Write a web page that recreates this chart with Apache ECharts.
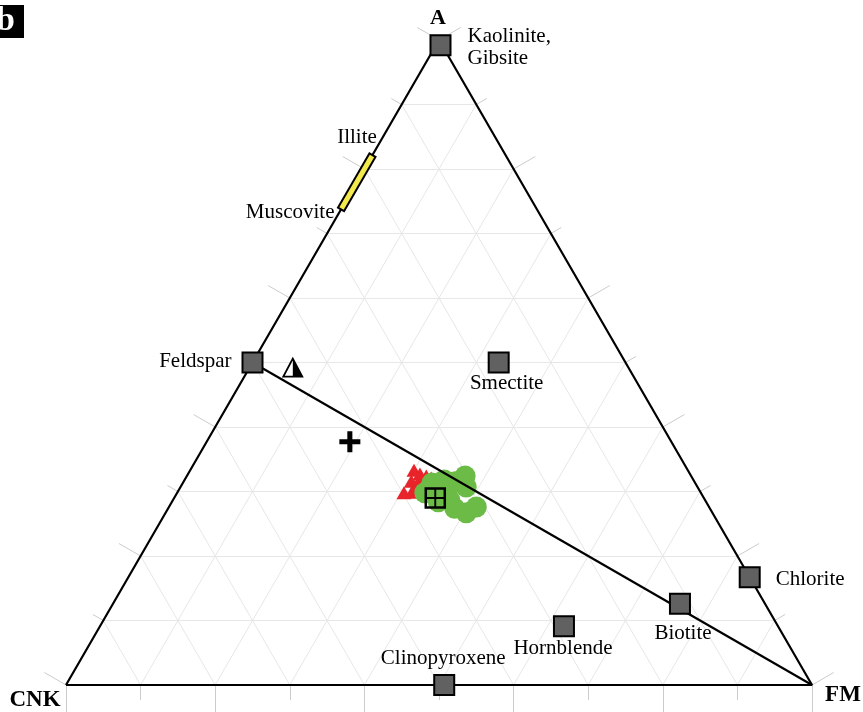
<!DOCTYPE html>
<html>
<head>
<meta charset="utf-8">
<script src="https://cdn.jsdelivr.net/npm/echarts@6/dist/echarts.min.js"></script>
<style>
  html, body { margin: 0; padding: 0; background: #fff; }
  #chart { width: 863px; height: 712px; }
</style>
</head>
<body>
<div id="chart"></div>
<script>
// A–CNK–FM ternary diagram. All compositions are [A, CNK, FM] in percent.

// Reference minerals
const mineralNames = ['Kaolinite,\nGibsite', 'Feldspar', 'Smectite', 'Chlorite', 'Biotite', 'Hornblende', 'Clinopyroxene'];
const mineralA   = [99.2, 50.0, 50.0, 16.7, 12.6,  9.1,  0.0];
const mineralCNK = [ 0.2, 50.0, 17.0,  0.0, 11.4, 28.7, 49.3];
const mineralFM  = [ 0.6,  0.0, 33.0, 83.3, 76.0, 62.2, 50.7];

// Illite–muscovite compositional range on the A–CNK join
const micaNames = ['Illite', 'Muscovite'];
const micaA   = [82.3, 73.6];
const micaCNK = [17.7, 26.4];
const micaFM  = [ 0.0,  0.0];

// Sample group 1 (red triangles)
const redA   = [33.3, 32.7, 32.4, 32.1, 31.6, 31.3, 29.8, 29.9, 31.0, 30.4];
const redCNK = [36.7, 36.2, 35.5, 35.0, 37.9, 37.2, 39.8, 38.7, 36.5, 37.9];
const redFM  = [30.0, 31.1, 32.1, 32.9, 30.5, 31.5, 30.4, 31.4, 32.5, 31.7];

// Sample group 2 (green circles)
const greenA   = [29.8, 31.3, 31.8, 31.5, 32.4, 30.7, 28.4, 28.7, 27.4, 26.7, 27.6, 30.2];
const greenCNK = [37.0, 35.3, 33.4, 32.1, 30.3, 31.0, 35.9, 34.2, 34.2, 33.0, 31.2, 33.8];
const greenFM  = [33.2, 33.4, 34.8, 36.4, 37.3, 38.3, 35.7, 37.1, 38.4, 40.3, 41.2, 36.0];

// Single reference compositions
const deltaPoint = [49.2, 45.0, 5.8];
const plusPoint  = [37.7, 43.1, 19.2];
const meanPoint  = [29.0, 36.0, 35.0];

// Feldspar – FM tie line
const tieLine = [[50, 50, 0], [0, 0, 100]];

// Corner labels
const cornerNames = ['A', 'CNK', 'FM'];
const cornerComp = [[100, 0, 0], [0, 100, 0], [0, 0, 100]];

// Grid levels (percent) and edge tick levels
const gridLevels = [10, 20, 30, 40, 50, 60, 70, 80, 90];
const tickLevels = [0, 10, 20, 30, 40, 50, 60, 70, 80, 90, 100];

const H = Math.sqrt(3) / 2;
function tern(a, c, f) {
  const s = a + c + f;
  return [(f + a / 2) / s, (a / s) * H];
}
const zip3 = (A, C, F) => A.map((a, i) => tern(a, C[i], F[i]));

// label placement around each marker (pixels)
const labelAt = {
  'Kaolinite,\nGibsite': { align: 'left', dx: 27, dy: 2 },
  'Feldspar': { align: 'right', dx: -21, dy: -1.5 },
  'Smectite': { align: 'center', dx: 8, dy: 20.5 },
  'Chlorite': { align: 'left', dx: 26, dy: 2 },
  'Biotite': { align: 'center', dx: 3, dy: 30 },
  'Hornblende': { align: 'center', dx: -1, dy: 22 },
  'Clinopyroxene': { align: 'center', dx: -1, dy: -27 },
  'Illite': { align: 'center', dx: -16, dy: -17 },
  'Muscovite': { align: 'right', dx: -6, dy: 2 },
  'A': { align: 'center', dx: -1, dy: -22, size: 22 },
  'CNK': { align: 'center', dx: -31, dy: 15, size: 23 },
  'FM': { align: 'center', dx: 31, dy: 10.5, size: 23 }
};

const serif = '"Liberation Serif", "Times New Roman", serif';
function labelFor(name, bold) {
  const p = labelAt[name];
  return {
    show: true,
    position: 'inside',
    formatter: '{b}',
    align: p.align,
    verticalAlign: 'middle',
    offset: [p.dx, p.dy],
    fontFamily: serif,
    fontSize: p.size || 21,
    fontWeight: bold ? 'bold' : 'normal',
    lineHeight: 22,
    color: '#000',
    opacity: 1
  };
}

// inner grid segments
const gridSegs = [];
gridLevels.forEach(l => {
  const r = 100 - l;
  gridSegs.push({ coords: [tern(l, r, 0), tern(l, 0, r)] });   // constant A
  gridSegs.push({ coords: [tern(0, r, l), tern(r, 0, l)] });   // constant FM
  gridSegs.push({ coords: [tern(0, l, r), tern(r, l, 0)] });   // constant CNK
});

// outward ticks, perpendicular to each edge
const PX = 1 / 746;
const tickSegs = [];
tickLevels.forEach((l, i) => {
  const long = i % 2 === 0;
  const len = (long ? 25 : 12) * PX;
  const lenB = (long ? 28 : 15) * PX;
  const left = tern(l, 100 - l, 0);
  tickSegs.push({ coords: [left, [left[0] - len * H, left[1] + len * 0.5]] });
  const right = tern(l, 0, 100 - l);
  tickSegs.push({ coords: [right, [right[0] + len * H, right[1] + len * 0.5]] });
  const bottom = tern(0, 100 - l, l);
  tickSegs.push({ coords: [bottom, [bottom[0], bottom[1] - lenB]] });
});

const outline = [tern(0, 100, 0), tern(0, 0, 100), tern(100, 0, 0), tern(0, 100, 0)];

// yellow core of the mica bar, inset slightly so the black outline shows at both ends
const inset = 0.27;
const micaCore = [tern(micaA[0] - inset, micaCNK[0] + inset, 0), tern(micaA[1] + inset, micaCNK[1] - inset, 0)];

const chart = echarts.init(document.getElementById('chart'), null, { renderer: 'canvas' });

const invisible = { color: 'rgba(0,0,0,0)', opacity: 1 };

chart.setOption({
  animation: false,
  backgroundColor: '#fff',
  grid: { left: 66, right: 51, top: 40, bottom: 27 },
  xAxis: { type: 'value', min: 0, max: 1, show: false },
  yAxis: { type: 'value', min: 0, max: H, show: false },
  graphic: [
    { type: 'rect', shape: { x: -10, y: 5, width: 34, height: 33 }, style: { fill: '#000' } },
    { type: 'text', style: { text: 'b', x: 15, y: 21, align: 'right', verticalAlign: 'middle',
      fill: '#fff', fontSize: 34, fontWeight: 'bold', fontFamily: serif } }
  ],
  series: [
    { type: 'lines', coordinateSystem: 'cartesian2d', silent: true, clip: false, z: 1,
      lineStyle: { color: '#e7e7e7', width: 1, opacity: 1 }, data: gridSegs },
    { type: 'lines', coordinateSystem: 'cartesian2d', silent: true, clip: false, z: 1,
      lineStyle: { color: '#cccccc', width: 1, opacity: 1 }, data: tickSegs },
    { type: 'line', data: outline, showSymbol: false, clip: false, silent: true, z: 2,
      lineStyle: { color: '#000', width: 2.2 } },
    { type: 'line', data: zip3(micaA, micaCNK, micaFM), showSymbol: false, clip: false, silent: true, z: 3,
      lineStyle: { color: '#000', width: 9, cap: 'butt' } },
    { type: 'line', data: micaCore, showSymbol: false, clip: false, silent: true, z: 4,
      lineStyle: { color: '#f3e84c', width: 5, cap: 'butt' } },
    { type: 'scatter', data: zip3(redA, redCNK, redFM), clip: false, z: 5,
      symbol: 'triangle', symbolSize: [15, 13], itemStyle: { color: '#e8242a', opacity: 1 } },
    { type: 'scatter', data: zip3(greenA, greenCNK, greenFM), clip: false, z: 6,
      symbol: 'circle', symbolSize: 21, itemStyle: { color: '#6cbb47', opacity: 1 } },
    { type: 'line', data: tieLine.map(p => tern(p[0], p[1], p[2])), showSymbol: false, clip: false,
      silent: true, z: 7, lineStyle: { color: '#000', width: 2.2 } },
    { type: 'scatter', clip: false, symbol: 'rect', symbolSize: 20, z: 8,
      itemStyle: { color: '#616161', borderColor: '#000', borderWidth: 2, opacity: 1 },
      data: mineralNames.map((n, i) => ({ name: n, value: tern(mineralA[i], mineralCNK[i], mineralFM[i]), label: labelFor(n) })) },
    { type: 'scatter', clip: false, symbolSize: 1, z: 8, itemStyle: invisible,
      data: micaNames.map((n, i) => ({ name: n, value: tern(micaA[i], micaCNK[i], micaFM[i]), label: labelFor(n) })) },
    { type: 'scatter', clip: false, symbol: 'triangle', symbolSize: [19, 18], z: 8,
      itemStyle: { color: '#fff', borderColor: '#000', borderWidth: 1.8, opacity: 1 },
      data: [tern(deltaPoint[0], deltaPoint[1], deltaPoint[2])] },
    { type: 'scatter', clip: false, symbol: 'path://M0,0L0,10L5,10Z', symbolSize: [9.5, 18], symbolOffset: [4.75, 0], z: 9,
      itemStyle: { color: '#000', opacity: 1 },
      data: [tern(deltaPoint[0], deltaPoint[1], deltaPoint[2])] },
    { type: 'scatter', clip: false, symbol: 'path://M3.8,0H6.2V3.8H10V6.2H6.2V10H3.8V6.2H0V3.8H3.8Z', symbolSize: 21, z: 8,
      itemStyle: { color: '#000', opacity: 1 },
      data: [tern(plusPoint[0], plusPoint[1], plusPoint[2])] },
    { type: 'scatter', clip: false, symbol: 'rect', symbolSize: 19, z: 9,
      itemStyle: { color: 'rgba(0,0,0,0)', borderColor: '#000', borderWidth: 2.5, opacity: 1 },
      data: [tern(meanPoint[0], meanPoint[1], meanPoint[2])] },
    { type: 'scatter', clip: false, symbol: 'path://M0,9H20V11H0ZM9,0H11V20H9Z', symbolSize: 19, z: 9,
      itemStyle: { color: '#000', opacity: 1 },
      data: [tern(meanPoint[0], meanPoint[1], meanPoint[2])] },
    { type: 'scatter', clip: false, symbolSize: 1, z: 9, itemStyle: invisible,
      data: cornerNames.map((n, i) => ({ name: n, value: tern(cornerComp[i][0], cornerComp[i][1], cornerComp[i][2]), label: labelFor(n, true) })) }
  ]
});
</script>
</body>
</html>
